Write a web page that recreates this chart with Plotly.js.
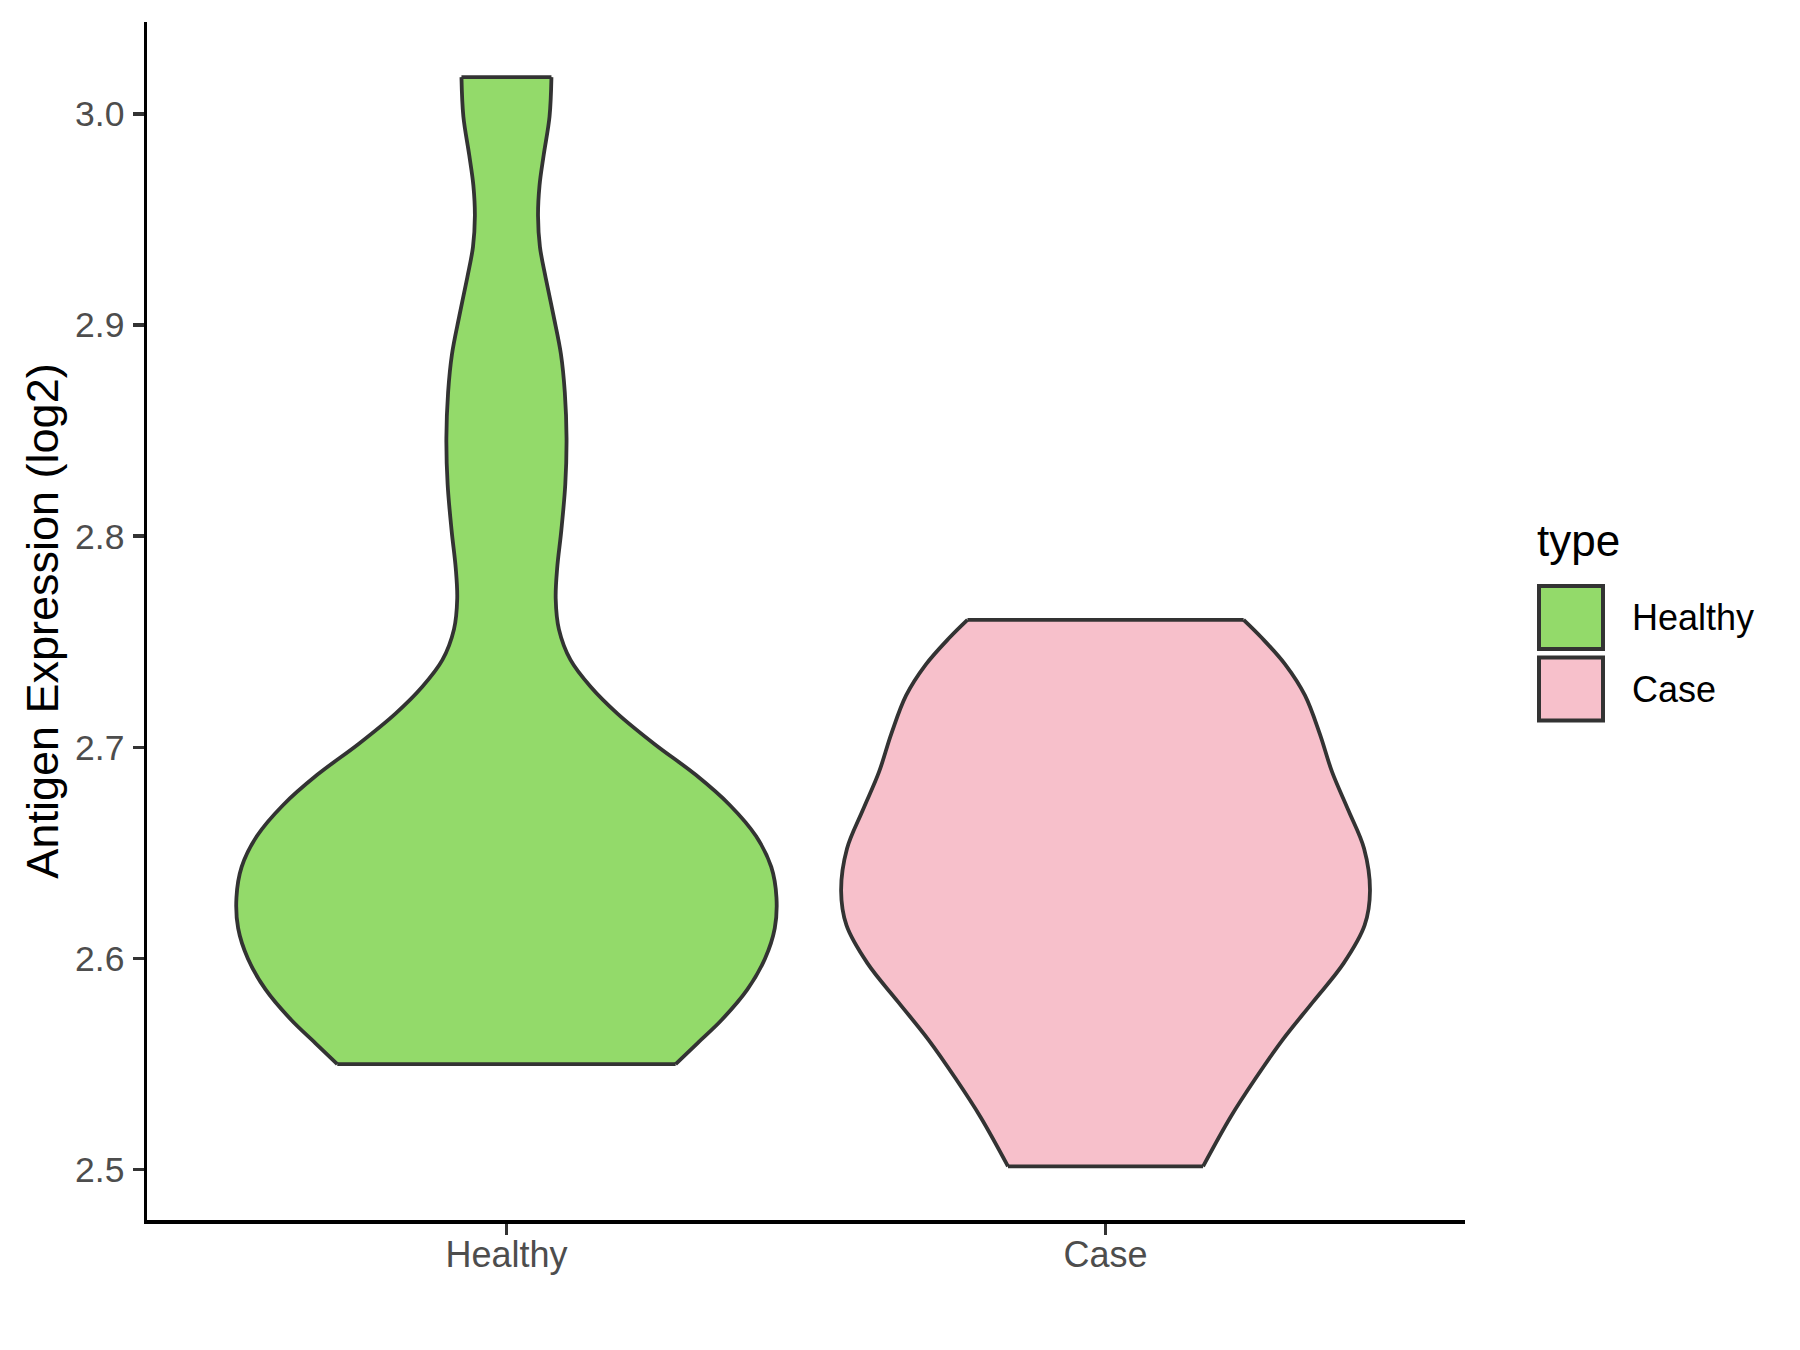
<!DOCTYPE html>
<html>
<head>
<meta charset="utf-8">
<script src="https://cdn.plot.ly/plotly-3.0.1.min.js"></script>
<style>html,body{margin:0;padding:0;background:#fff;}#chart{width:1800px;height:1350px;}</style>
</head>
<body>
<div id="chart"></div>
<script>
// ---- data ----
const categories = ['Healthy', 'Case'];
const legendTitle = 'type';
const yTickValues = [2.5, 2.6, 2.7, 2.8, 2.9, 3.0];

// Healthy violin outline: expression values (top to bottom) and half-width (x units)
const healthyY = [3.0174, 2.9987, 2.9806, 2.9661, 2.9516, 2.9370, 2.9225, 2.9044, 2.8863, 2.8681,
  2.8464, 2.8246, 2.8028, 2.7847, 2.7704, 2.7559, 2.7414, 2.7287, 2.7160, 2.7015,
  2.6870, 2.6725, 2.6580, 2.6434, 2.6289, 2.6144, 2.5999, 2.5854, 2.5709, 2.5600, 2.5500];
const healthyHalfWidth = [0.0751, 0.0719, 0.0622, 0.0552, 0.0527, 0.0559, 0.0654, 0.0786, 0.0909, 0.0974,
  0.1003, 0.0982, 0.0916, 0.0846, 0.0822, 0.0876, 0.1069, 0.1405, 0.1852, 0.2474,
  0.3159, 0.3735, 0.4165, 0.4420, 0.4507, 0.4479, 0.4315, 0.4022, 0.3591, 0.3191, 0.2824];

// Case violin outline
const caseY = [2.7604, 2.7519, 2.7392, 2.7246, 2.7065, 2.6884, 2.6702, 2.6521, 2.6321, 2.6158,
  2.5977, 2.5795, 2.5614, 2.5433, 2.5251, 2.5016];
const caseHalfWidth = [0.2305, 0.2607, 0.3001, 0.3329, 0.3575, 0.3781, 0.4053, 0.4315, 0.4414, 0.4325,
  0.3973, 0.3463, 0.2952, 0.2505, 0.2090, 0.1628];

const fillColors = ['#93DA6A', '#F7C0CB'];
const outline = '#333333';
const FONT = 'Liberation Sans, Arial, Helvetica, sans-serif';
const LW = 3.8;

const series = [
  {name: categories[0], y: healthyY, w: healthyHalfWidth, color: fillColors[0]},
  {name: categories[1], y: caseY, w: caseHalfWidth, color: fillColors[1]}
];

const traces = [];
series.forEach((s, i) => {
  const pos = i + 1;
  const n = s.y.length;
  traces.push({
    type: 'scatter', mode: 'lines', x: s.w.map(v => pos - v), y: s.y,
    line: {color: outline, width: LW, shape: 'spline', smoothing: 1},
    hoverinfo: 'skip', showlegend: false, name: s.name
  });
  traces.push({
    type: 'scatter', mode: 'lines', x: s.w.map(v => pos + v), y: s.y,
    fill: 'tonextx', fillcolor: s.color,
    line: {color: outline, width: LW, shape: 'spline', smoothing: 1},
    hoverinfo: 'skip', showlegend: false, name: s.name
  });
  traces.push({
    type: 'scatter', mode: 'lines', x: [pos - s.w[0], pos + s.w[0]], y: [s.y[0], s.y[0]],
    line: {color: outline, width: LW}, hoverinfo: 'skip', showlegend: false, name: s.name
  });
  traces.push({
    type: 'scatter', mode: 'lines', x: [pos - s.w[n - 1], pos + s.w[n - 1]], y: [s.y[n - 1], s.y[n - 1]],
    line: {color: outline, width: LW}, hoverinfo: 'skip', showlegend: false, name: s.name
  });
});

// plot area in pixels
const W = 1800, H = 1350;
const L = 147, R = 335, T = 22, B = 130;
const pw = W - L - R, ph = H - T - B;
const px = v => (v - L) / pw;
const py = v => (H - B - v) / ph;

const shapes = [];
const annotations = [];
// legend
annotations.push({xref: 'paper', yref: 'paper', x: px(1535), y: py(540), xanchor: 'left', yanchor: 'middle',
  text: legendTitle, showarrow: false, font: {family: FONT, size: 44, color: '#000000'}});
series.forEach((s, i) => {
  const top = 586 + i * 71.5;
  shapes.push({type: 'rect', xref: 'paper', yref: 'paper', x0: px(1539), x1: px(1603), y0: py(top), y1: py(top + 63),
    fillcolor: s.color, line: {color: outline, width: 4}});
  annotations.push({xref: 'paper', yref: 'paper', x: px(1630), y: py(top + 31.5), xanchor: 'left', yanchor: 'middle',
    text: s.name, showarrow: false, font: {family: FONT, size: 36, color: '#000000'}});
});

const layout = {
  width: W, height: H,
  margin: {l: L, r: R, t: T, b: B, pad: 0},
  paper_bgcolor: '#ffffff', plot_bgcolor: '#ffffff',
  font: {family: FONT, color: '#4D4D4D'},
  showlegend: false,
  xaxis: {
    range: [0.4, 2.6], tickvals: [1, 2], ticktext: categories,
    showgrid: false, zeroline: false, showline: true, linecolor: '#000000', linewidth: 3.5,
    ticks: 'outside', ticklen: 11, tickwidth: 3.5, tickcolor: '#333333',
    tickfont: {family: FONT, size: 36, color: '#4D4D4D'}, ticklabelstandoff: -11
  },
  yaxis: {
    range: [2.4762, 3.0435], tickvals: yTickValues, tickformat: '.1f',
    showgrid: false, zeroline: false, showline: true, linecolor: '#000000', linewidth: 3.5,
    ticks: 'outside', ticklen: 11, tickwidth: 3.5, tickcolor: '#333333',
    tickfont: {family: FONT, size: 35.5, color: '#4D4D4D'}, ticklabelstandoff: 1,
    title: {text: 'Antigen Expression (log2)', font: {family: FONT, size: 45, color: '#000000'}, standoff: 3}
  },
  shapes: shapes,
  annotations: annotations
};

Plotly.newPlot('chart', traces, layout, {displayModeBar: false, staticPlot: true});
</script>
</body>
</html>
